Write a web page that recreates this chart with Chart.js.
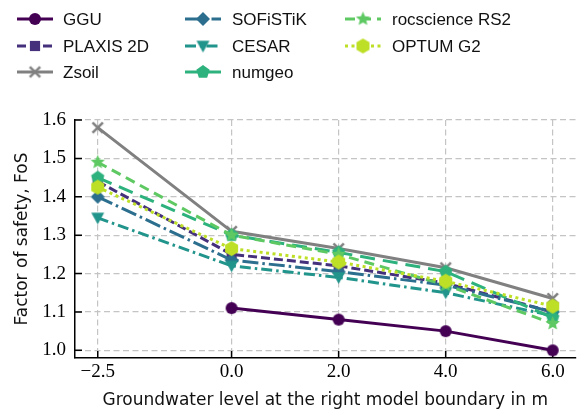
<!DOCTYPE html>
<html>
<head>
<meta charset="utf-8">
<script src="https://cdn.jsdelivr.net/npm/chart.js@4/dist/chart.umd.min.js"></script>
<style>
  html, body { margin: 0; padding: 0; background: #fff; }
  #wrap { width: 586px; height: 414px; }
</style>
</head>
<body>
<div id="wrap"><canvas id="fosChart" width="586" height="414"></canvas></div>
<script>
// groundwater level at right boundary (m)
const levels = [-2.5, 0, 2, 4, 6];
const xTicks = [-2.5, 0, 2, 4, 6];
const yTicks = [1.0, 1.1, 1.2, 1.3, 1.4, 1.5, 1.6];

// factor of safety per program
const ggu      = [null, 1.11, 1.08, 1.05, 1.00];
const plaxis   = [1.44, 1.25, 1.22, 1.175, 1.10];
const zsoil    = [1.58, 1.31, 1.265, 1.215, 1.135];
const sofistik = [1.40, 1.235, 1.205, 1.17, 1.10];
const cesar    = [1.345, 1.22, 1.19, 1.15, 1.09];
const numgeo   = [1.45, 1.30, 1.255, 1.205, 1.085];
const rs2      = [1.49, 1.30, 1.25, 1.17, 1.07];
const optum    = [1.425, 1.265, 1.23, 1.18, 1.115];

// marker drawn on a little canvas, used for points and legend
function makeMarker(shape, color, size) {
    const s = Math.ceil(size + 4);
    const c = document.createElement("canvas");
    c.width = s;
    c.height = s;
    const g = c.getContext("2d");
    g.translate(s / 2, s / 2);
    g.fillStyle = color;
    g.strokeStyle = color;
    const r = size / 2;
    g.beginPath();
    if (shape === "circle") {
        g.arc(0, 0, r, 0, Math.PI * 2);
    } else if (shape === "square") {
        g.rect(-r * 0.85, -r * 0.85, r * 1.7, r * 1.7);
    } else if (shape === "diamond") {
        g.moveTo(0, -r); g.lineTo(r, 0); g.lineTo(0, r); g.lineTo(-r, 0);
    } else if (shape === "triDown") {
        g.moveTo(0, r); g.lineTo(-r, -r * 0.8); g.lineTo(r, -r * 0.8);
    } else if (shape === "pentagon" || shape === "hexagon") {
        const n = shape === "pentagon" ? 5 : 6;
        for (let i = 0; i < n; i++) {
            const a = -Math.PI / 2 + i * 2 * Math.PI / n;
            g.lineTo(Math.cos(a) * r, Math.sin(a) * r);
        }
    } else if (shape === "star") {
        for (let i = 0; i < 10; i++) {
            const a = -Math.PI / 2 + i * Math.PI / 5;
            const rr = i % 2 === 0 ? r : r * 0.45;
            g.lineTo(Math.cos(a) * rr, Math.sin(a) * rr);
        }
    } else if (shape === "x") {
        const k = r * 0.8;
        g.lineWidth = 2.5;
        g.moveTo(-k, -k); g.lineTo(k, k);
        g.moveTo(k, -k); g.lineTo(-k, k);
        g.stroke();
        return c;
    }
    g.closePath();
    g.fill();
    return c;
}

const series = [
    { name: "GGU", values: ggu, color: "#440154", dash: [], shape: "circle", size: 12 },
    { name: "PLAXIS 2D", values: plaxis, color: "#45307c", dash: [9, 4], shape: "square", size: 12 },
    { name: "Zsoil", values: zsoil, color: "#808080", dash: [], shape: "x", size: 13 },
    { name: "SOFiSTiK", values: sofistik, color: "#2c6e8e", dash: [16, 4, 2.5, 4], shape: "diamond", size: 14 },
    { name: "CESAR", values: cesar, color: "#21948b", dash: [11, 4, 2.5, 4], shape: "triDown", size: 13 },
    { name: "numgeo", values: numgeo, color: "#2db27d", dash: [15, 8], shape: "pentagon", size: 14 },
    { name: "rocscience RS2", values: rs2, color: "#5ec962", dash: [10, 6], shape: "star", size: 15 },
    { name: "OPTUM G2", values: optum, color: "#bddf26", dash: [3, 3.5], shape: "hexagon", size: 15 }
];
series.forEach(s => { s.marker = makeMarker(s.shape, s.color, s.size); });

const datasets = series.map((s, i) => ({
    label: s.name,
    data: levels.map((x, j) => ({ x: x, y: s.values[j] })).filter(p => p.y !== null),
    borderColor: s.color,
    backgroundColor: s.color,
    borderWidth: 3,
    borderDash: s.dash,
    pointStyle: s.marker,
    pointRadius: s.size / 2,
    tension: 0,
    clip: false,
    order: series.length - i
}));

// legend in three columns, drawn on the canvas
const legendCols = [
    { x0: 17, tx: 63 },
    { x0: 185, tx: 232 },
    { x0: 345, tx: 392 }
];
const legendRows = [19, 46, 72];
const legendPlugin = {
    id: "colLegend",
    afterDraw(chart) {
        const ctx = chart.ctx;
        series.forEach((s, i) => {
            const col = legendCols[Math.floor(i / 3)];
            const y = legendRows[i % 3];
            ctx.save();
            ctx.strokeStyle = s.color;
            ctx.lineWidth = 3;
            ctx.setLineDash(s.dash);
            ctx.beginPath();
            ctx.moveTo(col.x0, y);
            ctx.lineTo(col.x0 + 36, y);
            ctx.stroke();
            ctx.drawImage(s.marker, col.x0 + 18 - s.marker.width / 2, y - s.marker.height / 2);
            ctx.fillStyle = "#111";
            ctx.font = "17px 'Liberation Sans'";
            ctx.textBaseline = "middle";
            ctx.fillText(s.name, col.tx, y + 1);
            ctx.restore();
        });
    }
};

// tick marks point inward, like the original
const innerTicks = {
    id: "innerTicks",
    beforeDatasetsDraw(chart) {
        const ctx = chart.ctx;
        const area = chart.chartArea;
        const xs = chart.scales.x;
        const ys = chart.scales.y;
        ctx.save();
        ctx.strokeStyle = "#000";
        ctx.lineWidth = 1.5;
        ctx.beginPath();
        xs.ticks.forEach(t => {
            const px = xs.getPixelForValue(t.value);
            ctx.moveTo(px, area.bottom);
            ctx.lineTo(px, area.bottom - 7);
        });
        ys.ticks.forEach(t => {
            const py = ys.getPixelForValue(t.value);
            ctx.moveTo(area.left, py);
            ctx.lineTo(area.left + 7, py);
        });
        ctx.stroke();
        ctx.restore();
    }
};

const tickFont = { family: "'Liberation Serif'", size: 19 };
const titleFont = { family: "'DejaVu Sans'", size: 17 };
const gridOpts = { color: "#c4c4c4", lineWidth: 1.2, drawTicks: false };

new Chart(document.getElementById("fosChart"), {
    type: "line",
    data: { datasets: datasets },
    plugins: [innerTicks, legendPlugin],
    options: {
        responsive: false,
        animation: false,
        events: [],
        layout: { padding: { top: 120, right: 3, left: 0, bottom: 0 } },
        plugins: { legend: { display: false }, tooltip: { enabled: false } },
        scales: {
            x: {
                type: "linear",
                min: -2.925,
                max: 6.425,
                afterFit(scale) { scale.height = 56; },
                afterBuildTicks(scale) { scale.ticks = xTicks.map(v => ({ value: v })); },
                ticks: {
                    color: "#000",
                    font: tickFont,
                    padding: 3,
                    maxRotation: 0,
                    callback: v => (v < 0 ? "\u2212" : "") + Math.abs(v).toFixed(1)
                },
                grid: gridOpts,
                border: { display: true, color: "#000", width: 1.5, dash: [6, 3.5] },
                title: {
                    display: true,
                    text: "Groundwater level at the right model boundary in m",
                    color: "#111",
                    font: titleFont,
                    padding: { top: 0, bottom: 3 }
                }
            },
            y: {
                type: "linear",
                min: 0.98,
                max: 1.6,
                afterFit(scale) { scale.width = 75; },
                afterBuildTicks(scale) { scale.ticks = yTicks.map(v => ({ value: v })); },
                ticks: {
                    color: "#000",
                    font: tickFont,
                    padding: 9,
                    callback: v => v.toFixed(1)
                },
                grid: gridOpts,
                border: { display: true, color: "#000", width: 1.5, dash: [6, 3.5] },
                title: {
                    display: true,
                    text: "Factor of safety, FoS",
                    color: "#111",
                    font: titleFont,
                    padding: { top: 12, bottom: 0 }
                }
            }
        }
    }
});
</script>
</body>
</html>
